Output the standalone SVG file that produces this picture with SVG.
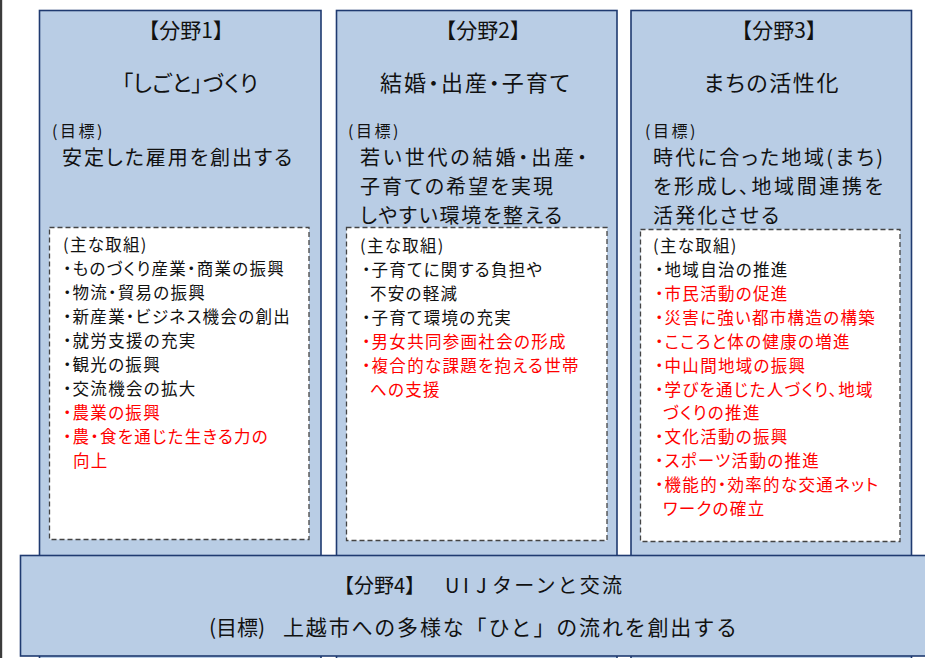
<svg xmlns="http://www.w3.org/2000/svg" width="925" height="658" viewBox="0 0 925 658">
<style>
text{font-family:"Noto Sans CJK JP","Noto Sans",sans-serif;fill:#111;}
.col{fill:#B9CDE5;stroke:#1F3A70;stroke-width:1.6;}
.dash{fill:#fff;stroke:#444;stroke-width:1.3;stroke-dasharray:5 3;}
.hd{font-size:21px;text-anchor:middle;}
.tt{font-size:22px;text-anchor:middle;font-feature-settings:"palt";}
.mk{font-size:16px;letter-spacing:2.5px;}
.gl{font-size:20px;font-feature-settings:"palt";}
.it{font-size:16.5px;letter-spacing:1.3px;font-feature-settings:"palt";}
.red{fill:#FF0000;}
.b1{font-size:20px;}
.b2{font-size:21px;}
</style>
<rect x="0" y="0" width="925" height="658" fill="#fff"/>
<rect x="0" y="0" width="2.2" height="658" fill="#3c3c3c"/>

<g id="field1">
<rect class="col" x="39.5" y="10.5" width="281.5" height="660"/>
<text class="hd" x="186" y="38">【分野1】</text>
<text class="tt" x="190" y="91" textLength="136">「しごと」づくり</text>
<text class="mk" x="52" y="137">(目標)</text>
<text class="gl" x="62" y="165" textLength="230">安定した雇用を創出する</text>
<rect class="dash" x="49.5" y="227.5" width="259.5" height="312"/>
<text class="it" x="63" y="251">(主な取組)</text>
<text class="it" x="63" y="275">・ものづくり産業・商業の振興</text>
<text class="it" x="63" y="299">・物流・貿易の振興</text>
<text class="it" x="63" y="323">・新産業・ビジネス機会の創出</text>
<text class="it" x="63" y="347">・就労支援の充実</text>
<text class="it" x="63" y="371">・観光の振興</text>
<text class="it" x="63" y="395">・交流機会の拡大</text>
<text class="it red" x="63" y="419">・農業の振興</text>
<text class="it red" x="63" y="443">・農・食を通じた生きる力の</text>
<text class="it red" x="73" y="467">向上</text>
</g>

<g id="field2">
<rect class="col" x="336.5" y="10.5" width="280.5" height="660"/>
<text class="hd" x="483" y="38">【分野2】</text>
<text class="tt" x="475" y="91" textLength="190">結婚・出産・子育て</text>
<text class="mk" x="348" y="137">(目標)</text>
<text class="gl" x="360" y="165" textLength="227">若い世代の結婚・出産・</text>
<text class="gl" x="360" y="194" textLength="193">子育ての希望を実現</text>
<text class="gl" x="360" y="223" textLength="202">しやすい環境を整える</text>
<rect class="dash" x="346.5" y="227.5" width="260.5" height="313"/>
<text class="it" x="360" y="252">(主な取組)</text>
<text class="it" x="362" y="276">・子育てに関する負担や</text>
<text class="it" x="370" y="300">不安の軽減</text>
<text class="it" x="362" y="324">・子育て環境の充実</text>
<text class="it red" x="362" y="348">・男女共同参画社会の形成</text>
<text class="it red" x="362" y="372">・複合的な課題を抱える世帯</text>
<text class="it red" x="370" y="396">への支援</text>
</g>

<g id="field3">
<rect class="col" x="631" y="10.5" width="280.5" height="660"/>
<text class="hd" x="779" y="38">【分野3】</text>
<text class="tt" x="771" y="91" textLength="135">まちの活性化</text>
<text class="mk" x="645" y="137">(目標)</text>
<text class="gl" x="653" y="165" textLength="230">時代に合った地域(まち)</text>
<text class="gl" x="653" y="194" textLength="230">を形成し、地域間連携を</text>
<text class="gl" x="653" y="223" textLength="126">活発化させる</text>
<rect class="dash" x="640.5" y="229.5" width="259.5" height="312"/>
<text class="it" x="653" y="252">(主な取組)</text>
<text class="it" x="655" y="276">・地域自治の推進</text>
<text class="it red" x="655" y="300">・市民活動の促進</text>
<text class="it red" x="655" y="324">・災害に強い都市構造の構築</text>
<text class="it red" x="655" y="348">・こころと体の健康の増進</text>
<text class="it red" x="655" y="372">・中山間地域の振興</text>
<text class="it red" x="655" y="396">・学びを通じた人づくり、地域</text>
<text class="it red" x="663" y="419">づくりの推進</text>
<text class="it red" x="655" y="443">・文化活動の振興</text>
<text class="it red" x="655" y="467">・スポーツ活動の推進</text>
<text class="it red" x="655" y="491">・機能的・効率的な交通ネット</text>
<text class="it red" x="663" y="515">ワークの確立</text>
</g>

<g id="field4">
<rect class="col" x="20.5" y="555.5" width="912" height="100.5"/>
<text class="b1" x="334" y="593">【分野4】<tspan x="445 463 476">UIJ</tspan><tspan x="492" textLength="130">ターンと交流</tspan></text>
<text class="b2" x="209" y="635"><tspan textLength="56">(目標)</tspan><tspan x="283" textLength="454">上越市への多様な「ひと」の流れを創出する</tspan></text>
</g>

<g id="connectors"></g>
</svg>
